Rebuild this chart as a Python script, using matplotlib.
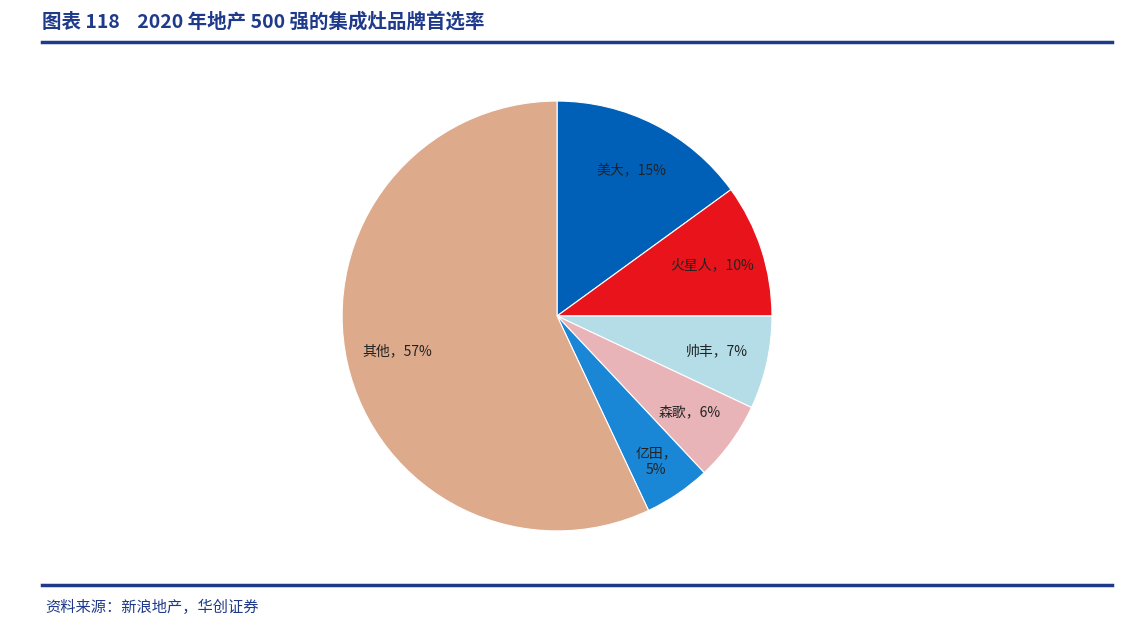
import matplotlib
matplotlib.use("Agg")
import matplotlib.pyplot as plt

plt.rcParams['font.family'] = ['Noto Sans CJK SC', 'DejaVu Sans']

brands = ["美大", "火星人", "帅丰", "森歌", "亿田", "其他"]
shares = [15, 10, 7, 6, 5, 57]
labels = ["美大，15%", "火星人，10%", "帅丰，7%", "森歌，6%", "亿田，\n5%", "其他，57%"]
colors = ["#0060B8", "#E8131B", "#B4DDE8", "#E8B4B8", "#1A86D6", "#DDAA8C"]

fig = plt.figure(figsize=(11.38, 6.34), dpi=100)
fig.patch.set_facecolor("white")

ax = fig.add_axes([0.4895 - 0.189, 0.5016 - 0.339, 0.378, 0.678])
wedges, texts = ax.pie(shares, labels=labels, colors=colors, startangle=90,
                       counterclock=False, labeldistance=0.76,
                       wedgeprops=dict(edgecolor="white", linewidth=0.8),
                       textprops=dict(fontsize=10, color="#222222", ha="center", va="center"))
for t in texts:
    t.set_ha("center")
texts[4].set_position((texts[4].get_position()[0]*1.08, texts[4].get_position()[1]*1.08))
ax.set_aspect("equal")
ax.set_xlim(-1.0, 1.0)
ax.set_ylim(-1.0, 1.0)

blue = "#1F3A8A"
fig.text(42/1138, 1 - 22/634, "图表 118    2020 年地产 500 强的集成灶品牌首选率",
         fontsize=14, fontweight="bold", color=blue, va="center", ha="left")
fig.add_artist(plt.Line2D([42/1138, 1112/1138], [1 - 42/634]*2, color=blue, lw=2.5))
fig.add_artist(plt.Line2D([42/1138, 1112/1138], [1 - 585/634]*2, color=blue, lw=2.5))
fig.text(45/1138, 1 - 607/634, "资料来源：新浪地产，华创证券", fontsize=11,
         style="italic", color=blue, va="center", ha="left")

fig.savefig("out.png", dpi=100)
